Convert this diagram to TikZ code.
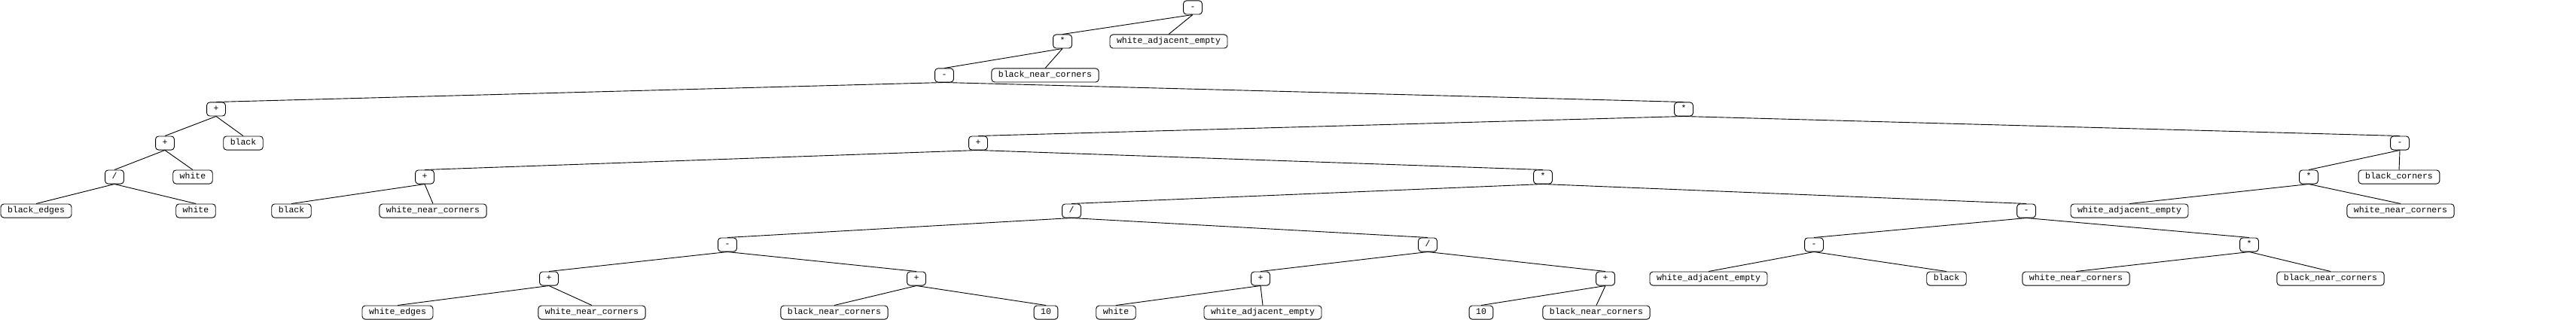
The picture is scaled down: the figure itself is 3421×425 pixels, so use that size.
\documentclass[tikz,border=0pt]{standalone}
\usepackage{fontspec}
\setmonofont{Liberation Mono}
\usepackage{tikz}
\tikzstyle{node_normal} = [draw, rounded corners=4pt, line width=0.9pt, font=\ttfamily\fontsize{11.5}{13}\selectfont, inner xsep=9pt, inner ysep=3.4pt, text height=8.5pt, text depth=2.8pt]
\tikzstyle{edge_normal} = [line width=0.9pt]

\begin{document}
\begin{tikzpicture}[x=1pt,y=-1pt]
			\useasboundingbox (0,0) rectangle (3421,425);
			\node (A1) at (1584,10) [node_normal] {-};
			\node (B1) at (1411,55) [node_normal] {*};
			\node (B2) at (1552,55) [node_normal] {white\_adjacent\_empty};
			\node (C1) at (1254,100) [node_normal] {-};
			\node (C2) at (1388,100) [node_normal] {black\_near\_corners};
			\node (D1) at (287,145) [node_normal] {+};
			\node (D2) at (2236,145) [node_normal] {*};
			\node (E1) at (219,190) [node_normal] {+};
			\node (E2) at (323,190) [node_normal] {black};
			\node (E3) at (1299,190) [node_normal] {+};
			\node (E4) at (3187,190) [node_normal] {-};
			\node (F1) at (152,235) [node_normal] {/};
			\node (F2) at (256,235) [node_normal] {white};
			\node (F3) at (564,235) [node_normal] {+};
			\node (F4) at (2049,235) [node_normal] {*};
			\node (F5) at (3066,235) [node_normal] {*};
			\node (F6) at (3186,235) [node_normal] {black\_corners};
			\node (G1) at (48,280) [node_normal] {black\_edges};
			\node (G2) at (260,280) [node_normal] {white};
			\node (G3) at (387,280) [node_normal] {black};
			\node (G4) at (575,280) [node_normal] {white\_near\_corners};
			\node (G5) at (1423,280) [node_normal] {/};
			\node (G6) at (2691,280) [node_normal] {-};
			\node (G7) at (2828,280) [node_normal] {white\_adjacent\_empty};
			\node (G8) at (3188,280) [node_normal] {white\_near\_corners};
			\node (H1) at (966,325) [node_normal] {-};
			\node (H2) at (1896,325) [node_normal] {/};
			\node (H3) at (2409,325) [node_normal] {-};
			\node (H4) at (2987,325) [node_normal] {*};
			\node (I1) at (729,370) [node_normal] {+};
			\node (I2) at (1217,370) [node_normal] {+};
			\node (I3) at (1674,370) [node_normal] {+};
			\node (I4) at (2132,370) [node_normal] {+};
			\node (I5) at (2269,370) [node_normal] {white\_adjacent\_empty};
			\node (I6) at (2585,370) [node_normal] {black};
			\node (I7) at (2757,370) [node_normal] {white\_near\_corners};
			\node (I8) at (3095,370) [node_normal] {black\_near\_corners};
			\node (J1) at (528,415) [node_normal] {white\_edges};
			\node (J2) at (786,415) [node_normal] {white\_near\_corners};
			\node (J3) at (1108,415) [node_normal] {black\_near\_corners};
			\node (J4) at (1389,415) [node_normal] {10};
			\node (J5) at (1482,415) [node_normal] {white};
			\node (J6) at (1677,415) [node_normal] {white\_adjacent\_empty};
			\node (J7) at (1967,415) [node_normal] {10};
			\node (J8) at (2120,415) [node_normal] {black\_near\_corners};
			
			\draw[edge_normal] (A1.south)--(B1.north) (A1.south)--(B2.north);
			\draw[edge_normal] (B1.south)--(C1.north) (B1.south)--(C2.north);
			\draw[edge_normal] (C1.south)--(D1.north) (C1.south)--(D2.north);
			\draw[edge_normal] (D1.south)--(E1.north) (D1.south)--(E2.north);
			\draw[edge_normal] (E1.south)--(F1.north) (E1.south)--(F2.north);
			\draw[edge_normal] (F1.south)--(G1.north) (F1.south)--(G2.north);
			\draw[edge_normal] (D2.south)--(E3.north) (D2.south)--(E4.north);
			\draw[edge_normal] (E3.south)--(F3.north) (E3.south)--(F4.north);
			\draw[edge_normal] (F3.south)--(G3.north) (F3.south)--(G4.north);
			\draw[edge_normal] (F4.south)--(G5.north) (F4.south)--(G6.north);
			\draw[edge_normal] (G5.south)--(H1.north) (G5.south)--(H2.north);
			\draw[edge_normal] (H1.south)--(I1.north) (H1.south)--(I2.north);
			\draw[edge_normal] (I1.south)--(J1.north) (I1.south)--(J2.north);
			\draw[edge_normal] (I2.south)--(J3.north) (I2.south)--(J4.north);
			\draw[edge_normal] (H2.south)--(I3.north) (H2.south)--(I4.north);
			\draw[edge_normal] (I3.south)--(J5.north) (I3.south)--(J6.north);
			\draw[edge_normal] (I4.south)--(J7.north) (I4.south)--(J8.north);
			\draw[edge_normal] (G6.south)--(H3.north) (G6.south)--(H4.north);
			\draw[edge_normal] (H3.south)--(I5.north) (H3.south)--(I6.north);
			\draw[edge_normal] (H4.south)--(I7.north) (H4.south)--(I8.north);
			\draw[edge_normal] (E4.south)--(F5.north) (E4.south)--(F6.north);
			\draw[edge_normal] (F5.south)--(G7.north) (F5.south)--(G8.north);
		\end{tikzpicture}
\end{document}
